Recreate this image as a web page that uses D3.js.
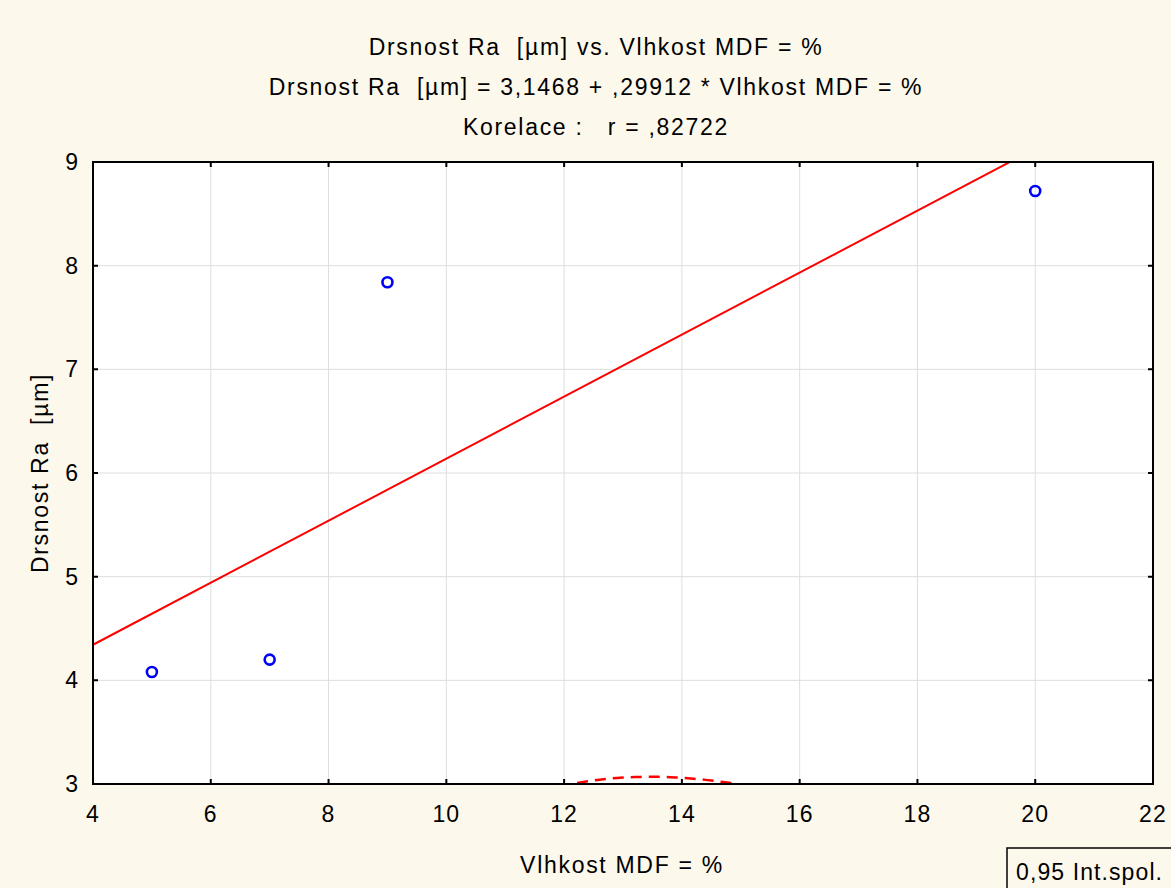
<!DOCTYPE html>
<html>
<head>
<meta charset="utf-8">
<script src="https://cdn.jsdelivr.net/npm/d3@7"></script>
<style>
  body { margin: 0; background: #fdf8ec; }
  text { font-family: 'Liberation Sans', Arial, sans-serif; fill: #000; white-space: pre; }
</style>
</head>
<body>
<div id="chart"></div>
<script>
// data
const moisture = [5, 7, 9, 20]
const roughness = [4.08, 4.2, 7.84, 8.72]

const xTicks = [4, 6, 8, 10, 12, 14, 16, 18, 20, 22]
const yTicks = [3, 4, 5, 6, 7, 8, 9]

const titleLines = [
  'Drsnost Ra  [µm] vs. Vlhkost MDF = %',
  'Drsnost Ra  [µm] = 3,1468 + ,29912 * Vlhkost MDF = %',
  'Korelace :   r = ,82722'
]
const intercept = 3.1468
const slope = 0.29912

const margin = { top: 162, left: 93, right: 18, bottom: 104 }
const totalWidth = 1171
const totalHeight = 888
const width = totalWidth - margin.left - margin.right
const height = totalHeight - margin.top - margin.bottom

const fontSize = 23
const spacing = '1.7px'

const root = d3
  .select('#chart')
  .append('svg')
  .attr('width', totalWidth)
  .attr('height', totalHeight)

root
  .append('rect')
  .attr('width', totalWidth)
  .attr('height', totalHeight)
  .attr('fill', '#fdf8ec')

const svg = root
  .append('g')
  .attr('transform', 'translate(' + margin.left + ',' + margin.top + ')')

const xPositionScale = d3.scaleLinear().domain([4, 22]).range([0, width])
const yPositionScale = d3.scaleLinear().domain([3, 9]).range([height, 0])

svg
  .append('rect')
  .attr('width', width)
  .attr('height', height)
  .attr('fill', '#fff')

svg
  .append('clipPath')
  .attr('id', 'plot-clip')
  .append('rect')
  .attr('width', width)
  .attr('height', height)

// grid
svg
  .selectAll('.grid-x')
  .data(xTicks.slice(1, -1))
  .enter()
  .append('line')
  .attr('class', 'grid-x')
  .attr('x1', d => xPositionScale(d))
  .attr('x2', d => xPositionScale(d))
  .attr('y1', 0)
  .attr('y2', height)
  .attr('stroke', '#dedede')
  .attr('stroke-width', 1)

svg
  .selectAll('.grid-y')
  .data(yTicks.slice(1, -1))
  .enter()
  .append('line')
  .attr('class', 'grid-y')
  .attr('y1', d => yPositionScale(d))
  .attr('y2', d => yPositionScale(d))
  .attr('x1', 0)
  .attr('x2', width)
  .attr('stroke', '#dedede')
  .attr('stroke-width', 1)

// confidence band (0,95) around the fitted line
const n = moisture.length
const meanX = d3.mean(moisture)
const sxx = d3.sum(moisture, d => (d - meanX) ** 2)
const sse = d3.sum(moisture, (d, i) => (roughness[i] - (intercept + slope * d)) ** 2)
const s = Math.sqrt(sse / (n - 2))
const tValue = 4.303 // t(0.975, df = 2)

const bandX = d3.range(4, 22.01, 0.1)
const band = d3
  .line()
  .x(d => xPositionScale(d.x))
  .y(d => yPositionScale(d.y))

const lowerBand = bandX.map(x => ({
  x: x,
  y: intercept + slope * x - tValue * s * Math.sqrt(1 / n + (x - meanX) ** 2 / sxx)
}))
const upperBand = bandX.map(x => ({
  x: x,
  y: intercept + slope * x + tValue * s * Math.sqrt(1 / n + (x - meanX) ** 2 / sxx)
}))

const clipped = svg.append('g').attr('clip-path', 'url(#plot-clip)')

clipped
  .selectAll('.band')
  .data([lowerBand, upperBand])
  .enter()
  .append('path')
  .attr('class', 'band')
  .attr('d', band)
  .attr('fill', 'none')
  .attr('stroke', '#f00')
  .attr('stroke-width', 2.5)
  .attr('stroke-dasharray', '11,7')

clipped
  .append('line')
  .attr('x1', xPositionScale(4))
  .attr('y1', yPositionScale(intercept + slope * 4))
  .attr('x2', xPositionScale(22))
  .attr('y2', yPositionScale(intercept + slope * 22))
  .attr('stroke', '#f00')
  .attr('stroke-width', 2)

// frame + inward ticks
svg
  .append('rect')
  .attr('width', width)
  .attr('height', height)
  .attr('fill', 'none')
  .attr('stroke', '#000')
  .attr('stroke-width', 2)

const tickLen = 5
svg
  .selectAll('.tick-x')
  .data(xTicks.slice(1, -1))
  .enter()
  .append('path')
  .attr('class', 'tick-x')
  .attr('d', d => {
    const x = xPositionScale(d)
    return 'M' + x + ',' + height + 'V' + (height - tickLen) + 'M' + x + ',0V' + tickLen
  })
  .attr('stroke', '#000')
  .attr('stroke-width', 2)

svg
  .selectAll('.tick-y')
  .data(yTicks.slice(1, -1))
  .enter()
  .append('path')
  .attr('class', 'tick-y')
  .attr('d', d => {
    const y = yPositionScale(d)
    return 'M0,' + y + 'H' + tickLen + 'M' + width + ',' + y + 'H' + (width - tickLen)
  })
  .attr('stroke', '#000')
  .attr('stroke-width', 2)

// points
svg
  .selectAll('.point')
  .data(moisture)
  .enter()
  .append('circle')
  .attr('class', 'point')
  .attr('cx', d => xPositionScale(d))
  .attr('cy', (d, i) => yPositionScale(roughness[i]))
  .attr('r', 5)
  .attr('fill', 'none')
  .attr('stroke', '#00f')
  .attr('stroke-width', 2.6)

// tick labels
svg
  .selectAll('.x-label')
  .data(xTicks)
  .enter()
  .append('text')
  .attr('class', 'x-label')
  .attr('x', d => xPositionScale(d))
  .attr('y', height + 38)
  .attr('text-anchor', 'middle')
  .attr('font-size', fontSize)
  .attr('letter-spacing', '1.1px')
  .text(d => d)

svg
  .selectAll('.y-label')
  .data(yTicks)
  .enter()
  .append('text')
  .attr('class', 'y-label')
  .attr('x', -15)
  .attr('y', d => yPositionScale(d) + 8)
  .attr('text-anchor', 'end')
  .attr('font-size', fontSize)
  .text(d => d)

// titles
root
  .selectAll('.title')
  .data(titleLines)
  .enter()
  .append('text')
  .attr('class', 'title')
  .attr('x', 596)
  .attr('y', (d, i) => 55 + i * 40)
  .attr('text-anchor', 'middle')
  .attr('font-size', fontSize)
  .attr('letter-spacing', spacing)
  .text(d => d)

root
  .append('text')
  .attr('x', 622)
  .attr('y', 873)
  .attr('text-anchor', 'middle')
  .attr('font-size', fontSize)
  .attr('letter-spacing', spacing)
  .text('Vlhkost MDF = %')

root
  .append('text')
  .attr('transform', 'translate(48,473) rotate(-90)')
  .attr('text-anchor', 'middle')
  .attr('font-size', fontSize)
  .attr('letter-spacing', spacing)
  .text('Drsnost Ra  [µm]')

// legend box
root
  .append('rect')
  .attr('x', 1007)
  .attr('y', 848)
  .attr('width', 180)
  .attr('height', 50)
  .attr('fill', '#fdf8ec')
  .attr('stroke', '#000')
  .attr('stroke-width', 1.5)

root
  .append('text')
  .attr('x', 1016)
  .attr('y', 880)
  .attr('font-size', fontSize)
  .attr('letter-spacing', '1.1px')
  .text('0,95 Int.spol.')
</script>
</body>
</html>
